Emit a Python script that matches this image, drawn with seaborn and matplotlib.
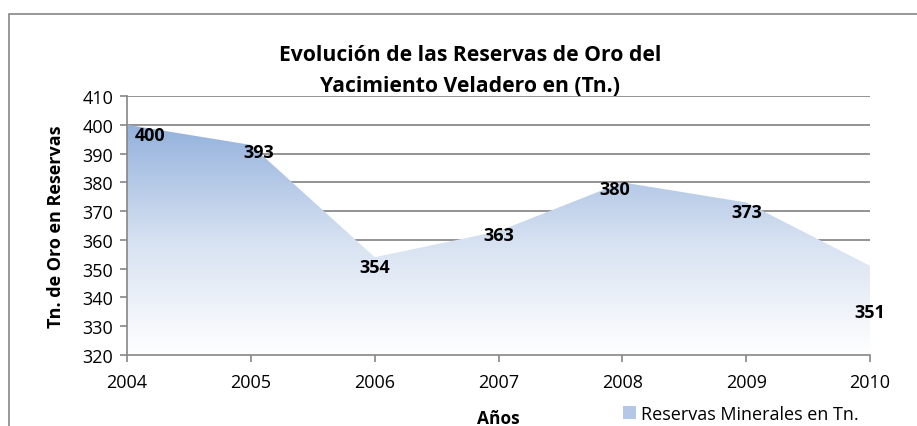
import matplotlib
matplotlib.use("Agg")
import matplotlib.pyplot as plt
import matplotlib.patches as mpatches
from matplotlib.colors import LinearSegmentedColormap
import numpy as np
import pandas as pd
import seaborn as sns

years = [2004, 2005, 2006, 2007, 2008, 2009, 2010]
reservas = [400, 393, 354, 363, 380, 373, 351]
y_ticks = list(range(320, 411, 10))
title_lines = ["Evolución de las Reservas de Oro del", "Yacimiento Veladero en (Tn.)"]
x_label = "Años"
y_label = "Tn. de Oro en Reservas"
legend_label = "Reservas Minerales en Tn."

# label offsets in pixels (dx, dy) relative to each point, like the Excel labels
label_offsets = [(23, -10), (8, -7), (0, -10), (0, -4), (-8, -7), (1, -10), (0, -46)]

sns.set_style("white")
plt.rcParams['font.family'] = ['Open Sans', 'DejaVu Sans']
plt.rcParams['text.color'] = 'black'
plt.rcParams['axes.labelcolor'] = 'black'

df = pd.DataFrame({"year": years, "reservas": reservas})

fig = plt.figure(figsize=(9.17, 4.27), dpi=100)
fig.set_facecolor("white")
ax = fig.add_axes([127 / 917, 1 - 356 / 427, (870 - 127) / 917, (356 - 97) / 427])

sns.lineplot(data=df, x="year", y="reservas", ax=ax, linewidth=0, color="#95B3D7")

# gradient filled area
cmap = LinearSegmentedColormap.from_list("grad", ["#ffffff", "#d6e1f1", "#93b1dc"])
grad = np.linspace(0, 1, 256).reshape(-1, 1)
poly = ax.fill_between(df["year"], 320, df["reservas"], facecolor="none", edgecolor="none")
img = ax.imshow(grad, cmap=cmap, origin="lower", aspect="auto",
                extent=[years[0], years[-1], 320, max(reservas)], zorder=2)
path = poly.get_paths()[0]
img.set_clip_path(path, transform=ax.transData)

ax.set_xlim(years[0], years[-1])
ax.set_ylim(y_ticks[0], y_ticks[-1])
ax.set_yticks(y_ticks)
ax.set_xticks(years)
ax.set_xticklabels([str(y) for y in years])
ax.yaxis.grid(True, color="#808080", linewidth=1.2)
ax.set_axisbelow(True)
for s in ["top", "right"]:
    ax.spines[s].set_visible(False)
for s in ["left", "bottom"]:
    ax.spines[s].set_color("#868686")
    ax.spines[s].set_linewidth(1.2)
    ax.spines[s].set_zorder(3)
ax.tick_params(axis="both", direction="out", length=5, width=1.2, color="#868686",
               labelsize=13, labelcolor="black", bottom=True, left=True)
ax.tick_params(axis="x", pad=8)
ax.tick_params(axis="y", pad=5)

for yr, v, (dx, dy) in zip(years, reservas, label_offsets):
    ax.annotate(str(v), xy=(yr, v), xytext=(dx * 0.72, dy * 0.72), textcoords="offset points",
                ha="center", va="center", fontsize=13, fontweight="bold", color="black", zorder=5)

ax.set_xlabel(x_label, fontsize=12.5, fontweight="bold")
ax.xaxis.set_label_coords(0.5, -0.21)
ax.set_ylabel(y_label, fontsize=13, fontweight="bold")
ax.yaxis.set_label_coords(-0.083, 0.5)

# two title lines, baselines at 61px and 92px from the top
for line, base in zip(title_lines, [61, 92]):
    fig.text(470 / 917, 1 - base / 427, line, ha="center", va="baseline", fontsize=15.2,
             fontweight="bold", color="black")

handle = mpatches.Patch(facecolor="#b4c7e7", edgecolor="none")
fig.legend([handle], [legend_label], loc="center left", bbox_to_anchor=(610 / 917, 1 - 415 / 427),
           frameon=False, fontsize=13, handlelength=0.75, handleheight=0.75, handletextpad=0.25,
           borderpad=0.2)

# outer chart border
fig.add_artist(mpatches.Rectangle((8.5 / 917, -0.1), 1.1, 1 - 15 / 427 + 0.1,
                                  transform=fig.transFigure, fill=False,
                                  edgecolor="#868686", linewidth=1.2))

fig.savefig("out.png", dpi=100)
